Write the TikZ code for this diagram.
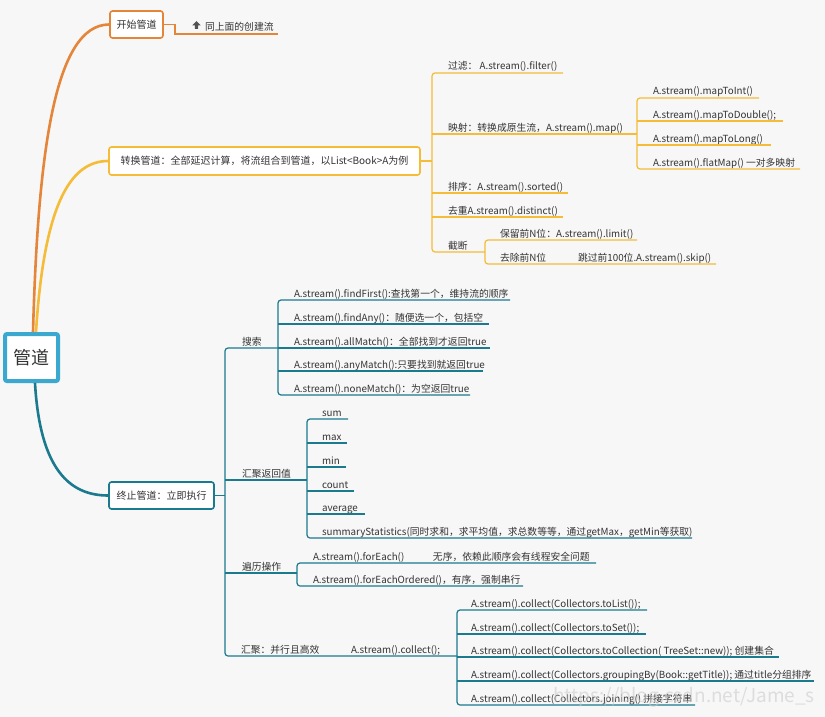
\documentclass[tikz,border=0pt]{standalone}
\usepackage{fontspec}
\setmainfont{Noto Sans CJK SC}
\definecolor{bgc}{HTML}{F7F7F7}
\definecolor{orng}{HTML}{E5853A}
\definecolor{yel}{HTML}{F4BC37}
\definecolor{tealc}{HTML}{1B7A8E}
\definecolor{rootc}{HTML}{3BA9CF}
\definecolor{txt}{HTML}{333333}
\newcommand{\mmnode}[6]{\node[mm] (#1) at (#2,#3) {\makebox[#4pt][l]{\hspace*{#5pt}#6}};}
\begin{document}
\begin{tikzpicture}[x=1pt,y=-1pt,
  mm/.style={anchor=south west, inner xsep=0pt, inner ysep=2pt, text depth=1pt, text height=8pt,
    font=\fontsize{9.8}{11}\selectfont, text=txt, outer sep=0pt},
  box/.style={draw, rounded corners=2.5pt, fill=white, line width=1.6pt,
    font=\fontsize{10}{12}\selectfont, text=txt, inner sep=0pt},
  yl/.style={draw=yel, line width=1.2pt},
  tl/.style={draw=tealc, line width=1.2pt},
  ol/.style={draw=orng, line width=1.2pt}]
\fill[bgc] (0,0) rectangle (825,717);
\useasboundingbox (0,0) rectangle (825,717);

% root
\node[draw=rootc, line width=4pt, fill=white, minimum width=53pt, minimum height=47pt,
  rounded corners=2pt, inner sep=0pt, text=txt, font=\fontsize{18}{20}\selectfont] (root) at (31.5,357.5) {管道};

% main boxes
\node[box, draw=orng, minimum width=53pt, minimum height=27pt] (start) at (136.5,24.5) {开始管道};
\node[box, draw=yel, minimum width=311pt, minimum height=28pt] (tr) at (264.5,161) {转换管道：全部延迟计算，将流组合到管道，以List<Book>A为例};
\node[box, draw=tealc, minimum width=105pt, minimum height=27pt] (end) at (161.5,495.5) {终止管道：立即执行};

% main curves
\draw[orng, line width=2.6pt] ([xshift=1.5pt]root.north) .. controls (38,150) and (55,24.5) .. (start.west);
\draw[yel, line width=2.6pt] ([xshift=4.5pt]root.north) .. controls (44,205) and (70,161) .. (tr.west);
\draw[tealc, line width=2.6pt] ([xshift=3.5pt]root.south) .. controls (40,470) and (70,495.5) .. (end.west);

% ---- start branch
\mmnode{same}{175}{34}{103}{30}{同上面的创建流}
\draw[ol] (start.east) -- (start.east -| same.south west) -- (same.south west) -- (same.south east);
\fill[txt!85] (192.3,25.3) -- (196.5,21) -- (200.7,25.3) -- (198.2,25.3) -- (198.2,29) -- (194.8,29) -- (194.8,25.3) -- cycle;

% ---- transform branch
\mmnode{filt}{432}{73}{131}{16}{过滤： A.stream().filter()}
\mmnode{map}{432}{134}{205}{16}{映射：转换成原生流，A.stream().map()}
\mmnode{m1}{637}{98}{122}{16}{A.stream().mapToInt()}
\mmnode{m2}{637}{121}{146}{16}{A.stream().mapToDouble();}
\mmnode{m3}{637}{145}{134}{16}{A.stream().mapToLong()}
\mmnode{m4}{637}{169}{163}{16}{A.stream().flatMap() 一对多映射}
\mmnode{sort}{432}{193}{136}{16}{排序：A.stream().sorted()}
\mmnode{dist}{432}{217}{131}{16}{去重A.stream().distinct()}
\mmnode{cut}{432}{252}{53}{16}{截断}
\mmnode{lim}{485}{240}{152}{15}{保留前N位：A.stream().limit()}
\mmnode{skp}{485}{264}{231}{15}{\makebox[78pt][l]{去除前N位}跳过前100位.A.stream().skip()}

\draw[yl] (tr.east) -- (tr.east -| filt.south west);
\draw[yl, rounded corners=3pt] (filt.south east) -- (filt.south west) -- (cut.south west) -- (cut.south east);
\foreach \n in {map,sort,dist} \draw[yl] (\n.south west) -- (\n.south east);
\draw[yl, rounded corners=3pt] (m1.south east) -- (m1.south west) -- (m4.south west) -- (m4.south east);
\foreach \n in {m2,m3} \draw[yl] (\n.south west) -- (\n.south east);
\draw[yl, rounded corners=3pt] (lim.south east) -- (lim.south west) -- (skp.south west) -- (skp.south east);

% ---- terminal branch
\mmnode{srch}{225}{348}{53}{17}{搜索}
\mmnode{s1}{278}{300}{232}{16}{A.stream().findFirst():查找第一个，维持流的顺序}
\mmnode{s2}{278}{324}{211}{16}{A.stream().findAny()：随便选一个，包括空}
\mmnode{s3}{278}{348}{212}{16}{A.stream().allMatch()：全部找到才返回true}
\mmnode{s4}{278}{371}{205}{16}{A.stream().anyMatch():只要找到就返回true}
\mmnode{s5}{278}{395}{192}{16}{A.stream().noneMatch()：为空返回true}
\mmnode{agg}{225}{480}{82}{17}{汇聚返回值}
\mmnode{a1}{307}{419}{41}{15}{sum}
\mmnode{a2}{307}{443}{40}{15}{max}
\mmnode{a3}{307}{467}{39}{15}{min}
\mmnode{a4}{307}{491}{47}{15}{count}
\mmnode{a5}{307}{514}{58}{15}{average}
\mmnode{a6}{307}{538}{385}{15}{summaryStatistics(同时求和，求平均值，求总数等等，通过getMax，getMin等获取)}
\mmnode{trv}{225}{573}{72}{17}{遍历操作}
\mmnode{t1}{297}{563}{299}{16}{\makebox[120pt][l]{A.stream().forEach()}无序，依赖此顺序会有线程安全问题}
\mmnode{t2}{297}{586}{226}{16}{A.stream().forEachOrdered()，有序，强制串行}
\mmnode{col}{225}{656}{116}{16}{汇聚：并行且高效}
\mmnode{colc}{341}{656}{116}{10}{A.stream().collect();}
\mmnode{c1}{457}{610}{190}{14}{A.stream().collect(Collectors.toList());}
\mmnode{c2}{457}{634}{189}{14}{A.stream().collect(Collectors.toSet());}
\mmnode{c3}{457}{657}{322}{14}{A.stream().collect(Collectors.toCollection( TreeSet::new)); 创建集合}
\mmnode{c4}{457}{681}{357}{14}{A.stream().collect(Collectors.groupingBy(Book::getTitle)); 通过title分组排序}
\mmnode{c5}{457}{705}{238}{14}{A.stream().collect(Collectors.joining() 拼接字符串}

\draw[tl] (end.east) -- (end.east -| srch.south west);
\draw[tl, rounded corners=3pt] (srch.south east) -- (srch.south west) -- (col.south west) -- (colc.south east);
\foreach \n in {agg,trv} \draw[tl] (\n.south west) -- (\n.south east);
\draw[tl, rounded corners=3pt] (s1.south east) -- (s1.south west) -- (s5.south west) -- (s5.south east);
\foreach \n in {s2,s3,s4} \draw[tl] (\n.south west) -- (\n.south east);
\draw[tl, rounded corners=3pt] (a1.south east) -- (a1.south west) -- (a6.south west) -- (a6.south east);
\foreach \n in {a2,a3,a4,a5} \draw[tl] (\n.south west) -- (\n.south east);
\draw[tl, rounded corners=3pt] (t1.south east) -- (t1.south west) -- (t2.south west) -- (t2.south east);
\draw[tl, rounded corners=3pt] (c1.south east) -- (c1.south west) -- (c5.south west) -- (c5.south east);
\foreach \n in {c2,c3,c4} \draw[tl] (\n.south west) -- (\n.south east);

% watermark
\node[anchor=east, text=gray!40, opacity=0.6, inner sep=0pt, font=\fontsize{19}{21}\selectfont] (wm) at (815,697) {https://blog.csdn.net/Jame\_s};
\end{tikzpicture}
\end{document}
